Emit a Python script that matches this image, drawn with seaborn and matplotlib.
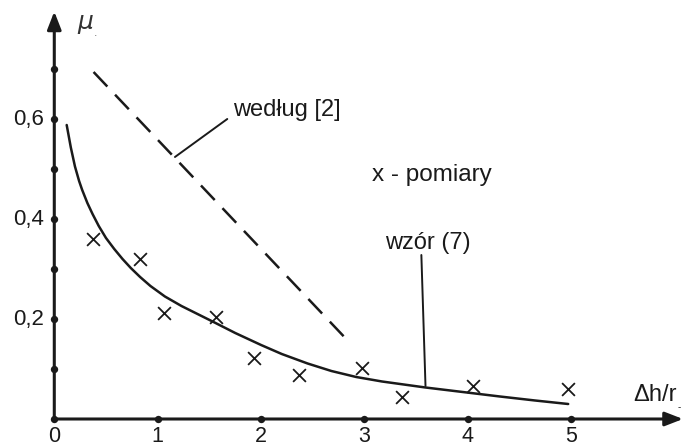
import numpy as np
import pandas as pd
import matplotlib
matplotlib.use("Agg")
import matplotlib.pyplot as plt
import seaborn as sns

# krzywa wg wzoru (7)
curve_x = [0.12, 0.16, 0.20, 0.24, 0.27, 0.32, 0.37, 0.43, 0.50, 0.58, 0.66, 0.74, 0.83,
           0.93, 1.07, 1.23, 1.55, 1.75, 2.00, 2.20, 2.45, 2.68, 2.92, 3.17, 3.59, 3.95,
           4.31, 4.65, 4.97]
curve_y = [0.588, 0.543, 0.505, 0.476, 0.458, 0.432, 0.410, 0.386, 0.362, 0.340, 0.320, 0.302,
           0.284, 0.266, 0.245, 0.226, 0.193, 0.172, 0.148, 0.130, 0.111, 0.096, 0.084, 0.075,
           0.063, 0.054, 0.045, 0.037, 0.030]

# linia wg [2]
ref_x = [0.38, 2.86]
ref_y = [0.694, 0.152]

# pomiary
meas_x = [0.37, 0.83, 1.06, 1.56, 1.93, 2.37, 2.98, 3.36, 4.05, 4.97]
meas_y = [0.36, 0.32, 0.212, 0.204, 0.122, 0.088, 0.102, 0.044, 0.066, 0.06]

xticks = [0, 1, 2, 3, 4, 5]
yticks = [0.1, 0.2, 0.3, 0.4, 0.5, 0.6, 0.7]
ylabels = {0.2: "0,2", 0.4: "0,4", 0.6: "0,6"}

sns.set_theme(style="white")
plt.rcParams['font.family'] = ['Liberation Sans', 'DejaVu Sans']

fig = plt.figure(figsize=(6.84, 4.47), dpi=100)
ax = fig.add_axes([0, 0, 1, 1])

ink = '#1a1a1a'

# dane
df_curve = pd.DataFrame({'x': curve_x, 'y': curve_y})
df_ref = pd.DataFrame({'x': ref_x, 'y': ref_y})
df_meas = pd.DataFrame({'x': meas_x, 'y': meas_y})

sns.lineplot(data=df_curve, x='x', y='y', ax=ax, color=ink, lw=1.8, sort=False)
sns.lineplot(data=df_ref, x='x', y='y', ax=ax, color=ink, lw=1.8, linestyle=(0, (8, 4.5)))
sns.scatterplot(data=df_meas, x='x', y='y', ax=ax, marker='x', s=85, color=ink,
                linewidth=1.3, zorder=4)

ax.set_xlim(-0.525, 6.09)
ax.set_ylim(-0.056, 0.838)
ax.axis('off')

# osie ze strzałkami
arrow = dict(arrowstyle='-|>,head_length=0.9,head_width=0.35', lw=2.2, color=ink,
             shrinkA=0, shrinkB=0)
ax.annotate('', xy=(6.08, 0), xytext=(0, 0), arrowprops=arrow, annotation_clip=False)
ax.annotate('', xy=(0, 0.815), xytext=(0, 0), arrowprops=arrow, annotation_clip=False)

# kropki podziałki
ax.scatter(xticks, [0] * len(xticks), s=28, color=ink, zorder=3, linewidths=0)
ax.scatter([0] * len(yticks), yticks, s=28, color=ink, zorder=3, linewidths=0)
for t in xticks:
    ax.text(t, -0.047, str(t), ha='center', va='baseline', fontsize=15.5, color=ink)
for t, lab in ylabels.items():
    ax.text(-0.1, t, lab, ha='right', va='center', fontsize=16, color=ink)

# opisy
ax.plot([1.167, 1.673], [0.524, 0.6], color=ink, lw=1.4)
ax.text(1.73, 0.618, 'według [2]', ha='left', va='center', fontsize=17, color=ink)
ax.text(3.07, 0.488, 'x - pomiary', ha='left', va='center', fontsize=17.5, color=ink)
ax.plot([3.55, 3.59], [0.328, 0.066], color=ink, lw=1.4)
ax.text(3.2, 0.352, 'wzór (7)', ha='left', va='center', fontsize=17, color=ink)

ax.text(0.22, 0.79, r'$\mu$', ha='left', va='center', fontsize=18, color='#333333')
ax.text(0.38, 0.772, '.', ha='left', va='center', fontsize=9, color='#777777')
ax.text(5.6, 0.048, 'Δh/r', ha='left', va='center', fontsize=17, color=ink)
ax.text(6.03, 0.024, '-', ha='left', va='center', fontsize=7, color=ink)

fig.savefig('out.png', dpi=100)
